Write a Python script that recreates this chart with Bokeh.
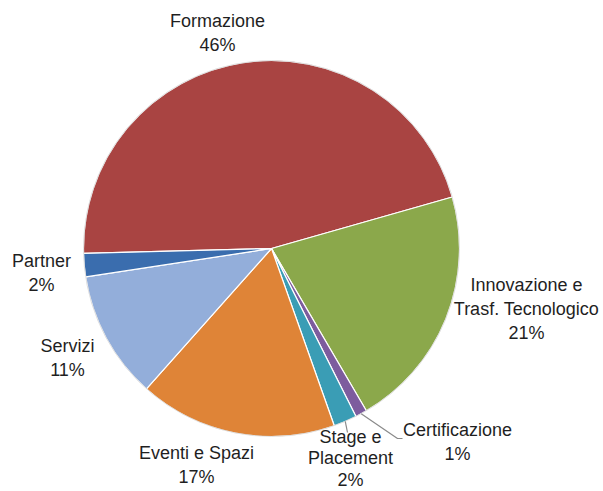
import math
from bokeh.plotting import figure
from bokeh.models import Range1d, ColumnDataSource
from bokeh.core.properties import value
from bokeh.embed import file_html
from bokeh.resources import INLINE

# ---- data ----
categories = ["Formazione", "Innovazione e Trasf. Tecnologico", "Certificazione",
              "Stage e Placement", "Eventi e Spazi", "Servizi", "Partner"]
label_texts = ["Formazione", "Innovazione e\nTrasf. Tecnologico", "Certificazione",
               "Stage e\nPlacement", "Eventi e Spazi", "Servizi", "Partner"]
percent = [46, 21, 1, 2, 17, 11, 2]

# ---- style / layout ----
colors = ["#A94442", "#8BA84B", "#7D5C9E", "#3A9DB5", "#DF8437", "#93AEDA", "#3A6DAE"]
W, H = 603, 491
CX, CY = 271, 491 - 248          # pie centre (data coords)
R = 188
START_DEG = 181.5                # first slice starts here, going clockwise
# label block centres, offsets from the pie centre in screen px (dx right, dy down)
label_offsets = [(-54, -216), (255, 60), (186, 193), (79, 210), (-75, 216), (-204, 109), (-230, 24)]
line_heights = [1.2, 1.2, 1.2, 1.08, 1.2, 1.2, 1.2]
# leader-line end points (offset from pie centre) for the tiny slices
leaders = {2: [(126, 190), (131, 190)], 3: [(76, 184)]}

p = figure(width=W, height=H, output_backend="svg", toolbar_location=None,
           x_range=Range1d(0, W), y_range=Range1d(0, H), min_border=0,
           outline_line_color=None, background_fill_color="white")
p.axis.visible = False
p.grid.visible = False

total = sum(percent)
starts, ends, mids = [], [], []
a = math.radians(START_DEG)
for v in percent:
    span = 2 * math.pi * v / total
    starts.append(a)
    ends.append(a - span)
    mids.append(a - span / 2)
    a -= span

src = ColumnDataSource(dict(start=starts, end=ends, color=colors, cat=categories))
p.wedge(x=CX, y=CY, radius=R, start_angle="start", end_angle="end", direction="clock",
        fill_color="color", line_color="white", line_width=1.2, source=src)
# faint rim
p.circle(x=CX, y=CY, radius=R, fill_color=None, line_color="#c8c8c8", line_width=1, line_alpha=0.6)

# leader lines
for i, pts in leaders.items():
    xs = [CX + R * math.cos(mids[i])]
    ys = [CY + R * math.sin(mids[i])]
    for dx, dy in pts:
        xs.append(CX + dx)
        ys.append(CY - dy)
    p.line(xs, ys, line_color="#8a8a8a", line_width=1.2)

for t, v, (dx, dy), lh in zip(label_texts, percent, label_offsets, line_heights):
    p.text(x=[CX + dx], y=[CY - dy], text=[f"{t}\n{v}%"], text_align="center",
           text_baseline="middle", text_font=value("Liberation Sans"),
           text_font_size="18px", text_color="#1f1f1f", text_line_height=lh)

open("out.html", "w").write(file_html(p, INLINE))
